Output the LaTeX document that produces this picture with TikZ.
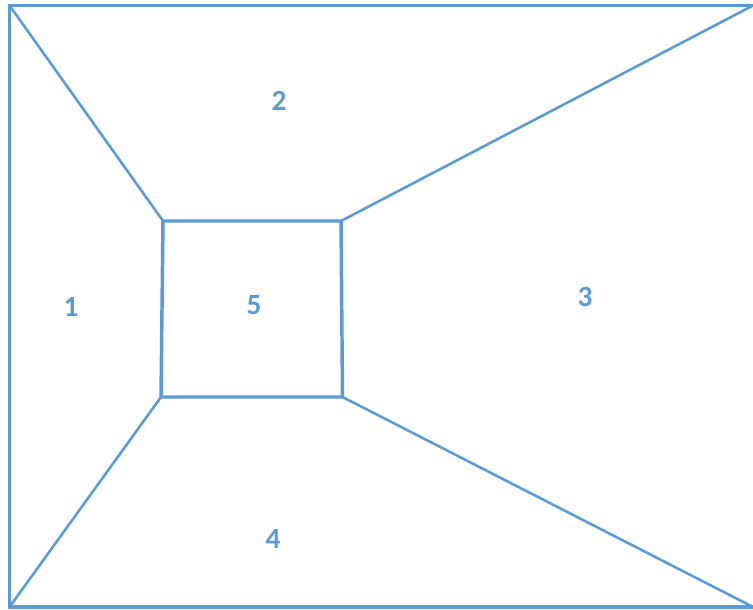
\documentclass[tikz,border=0pt]{standalone}
\usepackage{fontspec}
\setmainfont{Carlito}
\usepackage{xcolor}
\usepackage{tikz}
\usetikzlibrary{positioning, calc}
\definecolor{paneblue}{HTML}{5B9BD5}

\begin{document}
\begin{tikzpicture}[
  x=0.75pt, y=-0.75pt,
  frame/.style={draw=paneblue, line width=2.6pt},
  edge/.style={draw=paneblue, line width=1.9pt},
  lbl/.style={text=paneblue, font=\fontsize{22}{24}\selectfont\bfseries, inner sep=0pt}]
  \useasboundingbox (0,0) rectangle (753,610);
  % outer frame (open on the right)
  \coordinate (otl) at (9.5,5.5);
  \coordinate (otr) at (753,5.5);
  \coordinate (obr) at (753,607);
  \coordinate (obl) at (9.5,607);
  % inner box
  \coordinate (itl) at (163,221);
  \coordinate (itr) at (341,221);
  \coordinate (ibr) at (342.5,397);
  \coordinate (ibl) at (161,397);
  \draw[frame] (otr) -- (otl) -- (obl) -- (obr);
  \draw[frame] (itl) -- (itr) -- (ibr) -- (ibl) -- cycle;
  \draw[edge] (otl) -- (itl);
  \draw[edge] (otr) -- (itr);
  \draw[edge] (obr) -- (ibr);
  \draw[edge] (obl) -- (ibl);
  % region numbers
  \node[lbl] (r1) at (71,307) {1};
  \node[lbl] (r2) at (279,101) {2};
  \node[lbl] (r3) at (585,297) {3};
  \node[lbl] (r4) at (273,539) {4};
  \node[lbl] (r5) at (254,305) {5};
\end{tikzpicture}
\end{document}
